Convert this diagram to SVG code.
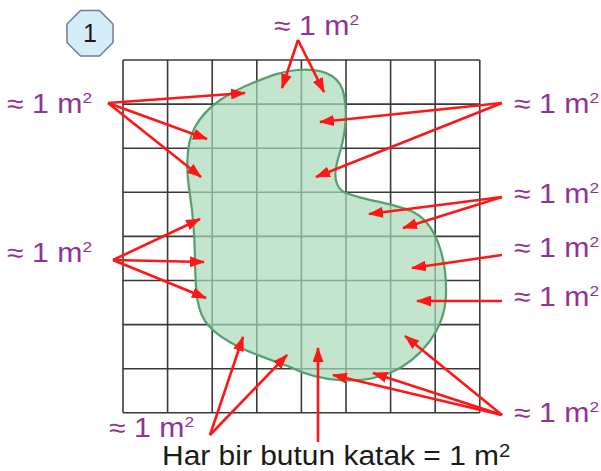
<svg xmlns="http://www.w3.org/2000/svg" width="601" height="471" viewBox="0 0 601 471">
<style>
.grid line{stroke:#3a3a3a;stroke-width:1.6}
.lbl{font-family:"Liberation Sans",Arial,sans-serif;font-size:27px;fill:#913393}
.sup{font-size:15.5px}
.cap{font-family:"Liberation Sans",Arial,sans-serif;font-size:28px;fill:#1a1a1a}
.arr line{stroke:#ff1616;stroke-width:2.6;marker-end:url(#ah)}
</style>
<defs>
<marker id="ah" markerUnits="userSpaceOnUse" markerWidth="15" markerHeight="11" refX="14" refY="5.5" orient="auto">
<path d="M0,0 L15,5.5 L0,11 z" fill="#ff1616"/>
</marker>
</defs>
<rect width="601" height="471" fill="#ffffff"/>
<g id="grid" class="grid">
<line x1="123" y1="60" x2="123" y2="412.8"/>
<line x1="167.6" y1="60" x2="167.6" y2="412.8"/>
<line x1="212.2" y1="60" x2="212.2" y2="412.8"/>
<line x1="256.8" y1="60" x2="256.8" y2="412.8"/>
<line x1="301.4" y1="60" x2="301.4" y2="412.8"/>
<line x1="346" y1="60" x2="346" y2="412.8"/>
<line x1="390.6" y1="60" x2="390.6" y2="412.8"/>
<line x1="435.2" y1="60" x2="435.2" y2="412.8"/>
<line x1="479.8" y1="60" x2="479.8" y2="412.8"/>
<line x1="123" y1="60" x2="479.8" y2="60"/>
<line x1="123" y1="104.1" x2="479.8" y2="104.1"/>
<line x1="123" y1="148.2" x2="479.8" y2="148.2"/>
<line x1="123" y1="192.3" x2="479.8" y2="192.3"/>
<line x1="123" y1="236.4" x2="479.8" y2="236.4"/>
<line x1="123" y1="280.5" x2="479.8" y2="280.5"/>
<line x1="123" y1="324.6" x2="479.8" y2="324.6"/>
<line x1="123" y1="368.7" x2="479.8" y2="368.7"/>
<line x1="123" y1="412.8" x2="479.8" y2="412.8"/>
</g>
<g id="shape">
<path d="M297,70 C322,68 340,74 344,95 C348,115 345,135 340,152 C335,168 332,182 342,191 C360,201 395,202 415,213 C438,226 447,262 446,295 C445,330 420,360 390,373 C360,385 320,382 290,367 C260,356 225,345 208,325 C195,310 196,285 195,265 C195,240 193,215 190,195 C186,170 185,145 195,127 C207,105 230,92 255,82 C270,76 283,71 297,70 Z" fill="#aad8b8" fill-opacity="0.7" stroke="#55a06f" stroke-width="2.2"/>
</g>
<g id="badge">
<polygon points="80.5,10.5 99.5,10.5 113,24 113,42.5 99.5,56 80.5,56 67,42.5 67,24" fill="#d5ecf9" stroke="#6d7c9c" stroke-width="1.5"/>
<text x="90" y="42" text-anchor="middle" font-family="Liberation Sans,Arial,sans-serif" font-size="25" fill="#1a1a1a">1</text>
</g>
<g id="connectors" class="arr">
<line x1="298" y1="40" x2="282" y2="88"/>
<line x1="298" y1="40" x2="324" y2="92"/>
<line x1="108" y1="103" x2="245" y2="93"/>
<line x1="108" y1="103" x2="207" y2="139"/>
<line x1="108" y1="103" x2="201" y2="177"/>
<line x1="113" y1="260" x2="200" y2="219"/>
<line x1="113" y1="260" x2="204" y2="262"/>
<line x1="113" y1="260" x2="206" y2="298"/>
<line x1="502" y1="103" x2="320" y2="122"/>
<line x1="502" y1="103" x2="316" y2="177"/>
<line x1="502" y1="197" x2="369" y2="214"/>
<line x1="502" y1="197" x2="403" y2="228"/>
<line x1="502" y1="255" x2="412" y2="268"/>
<line x1="502" y1="301" x2="417" y2="301"/>
<line x1="502" y1="415" x2="405" y2="336"/>
<line x1="502" y1="415" x2="373" y2="373"/>
<line x1="502" y1="415" x2="333" y2="375"/>
<line x1="210" y1="435" x2="243" y2="337"/>
<line x1="210" y1="435" x2="287" y2="355"/>
<line x1="318" y1="442" x2="318" y2="348"/>
</g>
<g id="label-top"><text class="lbl" transform="translate(274,35) scale(1.12,1)">≈ 1 m<tspan class="sup" dy="-10">2</tspan></text></g>
<g id="label-left1"><text class="lbl" transform="translate(7,113) scale(1.12,1)">≈ 1 m<tspan class="sup" dy="-10">2</tspan></text></g>
<g id="label-left2"><text class="lbl" transform="translate(7,262) scale(1.12,1)">≈ 1 m<tspan class="sup" dy="-10">2</tspan></text></g>
<g id="label-right1"><text class="lbl" transform="translate(514,113) scale(1.12,1)">≈ 1 m<tspan class="sup" dy="-10">2</tspan></text></g>
<g id="label-right2"><text class="lbl" transform="translate(514,203) scale(1.12,1)">≈ 1 m<tspan class="sup" dy="-10">2</tspan></text></g>
<g id="label-right3"><text class="lbl" transform="translate(514,257) scale(1.12,1)">≈ 1 m<tspan class="sup" dy="-10">2</tspan></text></g>
<g id="label-right4"><text class="lbl" transform="translate(514,306) scale(1.12,1)">≈ 1 m<tspan class="sup" dy="-10">2</tspan></text></g>
<g id="label-right5"><text class="lbl" transform="translate(514,422) scale(1.12,1)">≈ 1 m<tspan class="sup" dy="-10">2</tspan></text></g>
<g id="label-bottom"><text class="lbl" transform="translate(109,437) scale(1.12,1)">≈ 1 m<tspan class="sup" dy="-10">2</tspan></text></g>
<g id="caption"><text class="cap" transform="translate(162,464.5) scale(1.07,1)">Har bir butun katak = 1 m<tspan font-size="19" dy="-8">2</tspan></text></g>
</svg>
